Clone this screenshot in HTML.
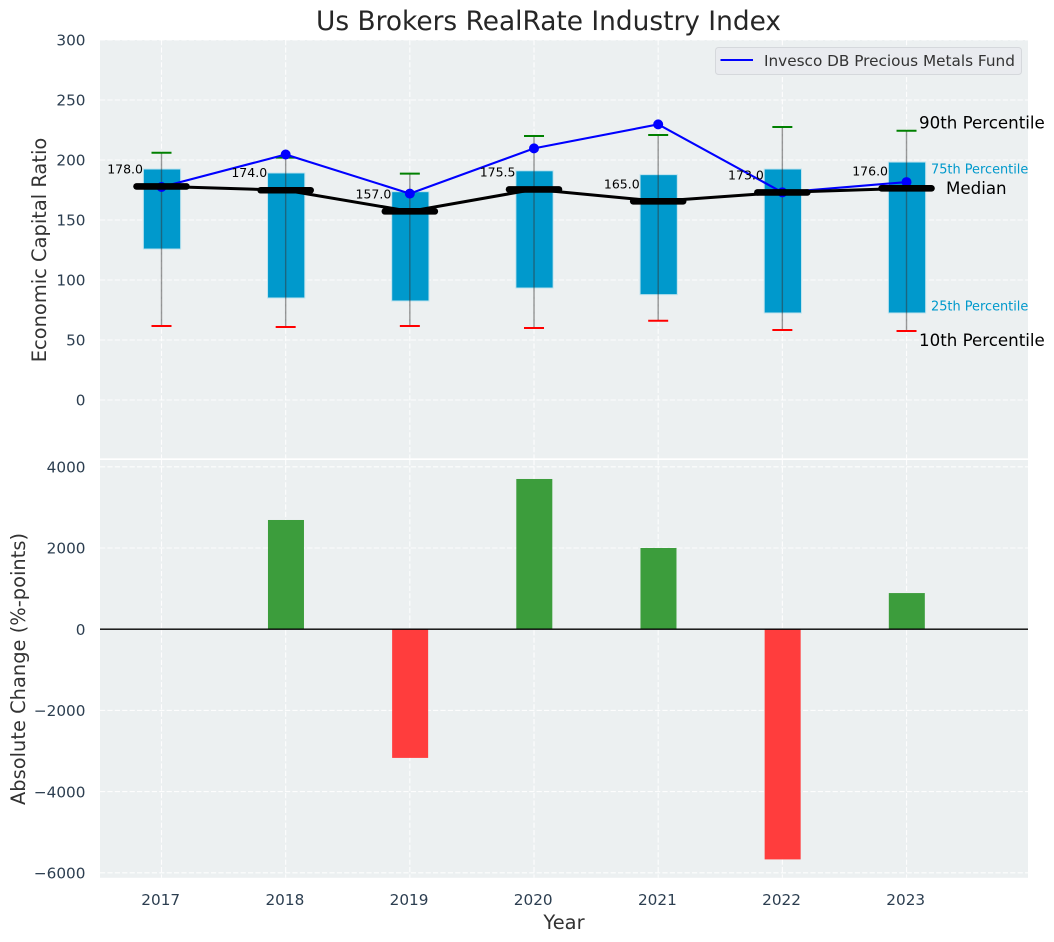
<!DOCTYPE html>
<html lang="en">
<head>
<meta charset="utf-8">
<title>Us Brokers RealRate Industry Index</title>
<style>
html,body{margin:0;padding:0;background:#fff;width:1054px;height:942px;overflow:hidden}
svg{display:block;font-family:"DejaVu Sans","Liberation Sans",sans-serif}
</style>
</head>
<body>
<svg id="chart" xmlns="http://www.w3.org/2000/svg" width="1054" height="942" viewBox="0 0 1054 942"></svg>
<script>
const years = [2017, 2018, 2019, 2020, 2021, 2022, 2023];
const p90 = [206, 202, 188.6, 220, 220.8, 227.5, 224.4];
const p75 = [192.5, 189.2, 173.6, 191, 187.8, 192.5, 198.3];
const medians = [178, 174.8, 157.2, 175.5, 165.6, 173, 176.4];
const medianLabels = ['178.0', '174.0', '157.0', '175.5', '165.0', '173.0', '176.0'];
const p25 = [125.8, 85, 82.5, 93.3, 87.8, 72.5, 72.5];
const p10 = [61.7, 60.8, 61.7, 60, 66, 58.3, 57.5];
const fundValues = [177.5, 204.6, 172, 209.7, 229.7, 173, 181.6];
const changeValues = [0, 2690, -3170, 3700, 2000, -5670, 890];
const topTicks = [0, 50, 100, 150, 200, 250, 300];
const bottomTicks = [-6000, -4000, -2000, 0, 2000, 4000];

const svg = document.getElementById('chart');
const NS = 'http://www.w3.org/2000/svg';
const left = 100, right = 1028;
const x = v => 161.5 + (v - 2017) * 124.17;
const yTop = v => 400 - v * 1.2;
const yBottom = v => 629.2 - v * 0.0406;
const spanWidth = d => d * 124.17;

function add(tag, attrs, text) {
  const el = document.createElementNS(NS, tag);
  for (const k in attrs) el.setAttribute(k, attrs[k]);
  if (text !== undefined) el.textContent = text;
  svg.appendChild(el);
  return el;
}
function minus(v) { return String(v).replace('-', '\u2212'); }
function poly(vals, sc) { return vals.map((v, i) => x(years[i]) + ',' + sc(v)).join(' '); }

let el;
el = add('rect', {x: left, y: 40, width: right - left, height: 418.3, fill: '#ECF0F1'});


el = add('rect', {x: left, y: 460, width: right - left, height: 417.8, fill: '#ECF0F1'});



const gridStyle = {stroke: '#ffffff', 'stroke-width': 1.1, 'stroke-dasharray': '5.2 2.2', opacity: 0.9};
topTicks.forEach(t => {
  el = add('line', {x1: left, x2: right, y1: yTop(t), y2: yTop(t), ...gridStyle});
  
  
  el = add('text', {x: 85.5, y: yTop(t) + 5.7, 'text-anchor': 'end', 'font-size': 15.28, fill: '#2C3E50'}, minus(t));
  
  
});
bottomTicks.forEach(t => {
  el = add('line', {x1: left, x2: right, y1: yBottom(t), y2: yBottom(t), ...gridStyle});
  
  
  el = add('text', {x: 85.5, y: yBottom(t) + 5.7, 'text-anchor': 'end', 'font-size': 15.28, fill: '#2C3E50'}, minus(t));
  
  
});
years.forEach(yr => {
  el = add('line', {x1: x(yr), x2: x(yr), y1: 40, y2: 458.3, ...gridStyle});
  
  
  el = add('line', {x1: x(yr), x2: x(yr), y1: 460, y2: 877.8, ...gridStyle});
  
  
  el = add('text', {x: x(yr) - 0.8, y: 905, 'text-anchor': 'middle', 'font-size': 15.28, fill: '#2C3E50'}, yr);
  
  
});

years.forEach((yr, i) => {
  const w = spanWidth(0.3);
  el = add('rect', {x: x(yr) - w / 2 + 0.5, y: yTop(p75[i]), width: w, height: yTop(p25[i]) - yTop(p75[i]), fill: '#0099CC', stroke: '#BFE3EE', 'stroke-width': 1});
  
  
  el = add('line', {x1: x(yr), x2: x(yr), y1: yTop(p90[i]), y2: yTop(p10[i]), stroke: '#333', 'stroke-opacity': 0.5, 'stroke-width': 1.4});
  
  
  el = add('line', {x1: x(yr) - 10, x2: x(yr) + 10, y1: yTop(p90[i]), y2: yTop(p90[i]), stroke: '#008000', 'stroke-width': 2});
  
  
  el = add('line', {x1: x(yr) - 10, x2: x(yr) + 10, y1: yTop(p10[i]), y2: yTop(p10[i]), stroke: '#FF0000', 'stroke-width': 2});
  
  
});

el = add('polyline', {points: poly(fundValues, yTop), fill: 'none', stroke: '#0000FF', 'stroke-width': 2.1});


years.forEach((yr, i) => {
  el = add('circle', {cx: x(yr), cy: yTop(fundValues[i]), r: 5, fill: '#0000FF'});
  
  
});

el = add('polyline', {points: poly(medians, yTop), fill: 'none', stroke: '#000', 'stroke-width': 3});


years.forEach((yr, i) => {
  el = add('line', {x1: x(yr) - 25, x2: x(yr) + 25, y1: yTop(medians[i]), y2: yTop(medians[i]), stroke: '#000', 'stroke-width': 6.6, 'stroke-linecap': 'round'});
  
  
  el = add('text', {x: x(yr) - 18.5, y: yTop(medians[i]) - 13, 'text-anchor': 'end', 'font-size': 12.5, fill: '#000'}, medianLabels[i]);
  
  
});

years.forEach((yr, i) => {
  const v = changeValues[i];
  if (v === 0) return;
  const w = spanWidth(0.29);
  el = add('rect', {x: x(yr) - w / 2 + 0.3, y: Math.min(yBottom(v), yBottom(0)), width: w, height: Math.abs(yBottom(v) - yBottom(0)), fill: v > 0 ? '#3C9D3C' : '#FF3D3D'});
  
  
});
el = add('line', {x1: left, x2: right, y1: yBottom(0), y2: yBottom(0), stroke: '#000', 'stroke-width': 1.4});



el = add('text', {x: 919, y: 128.3, 'font-size': 16.67, fill: '#000'}, '90th Percentile');


el = add('text', {x: 919, y: 346, 'font-size': 16.67, fill: '#000'}, '10th Percentile');


el = add('text', {x: 946, y: 194, 'font-size': 16.67, fill: '#000'}, 'Median');


el = add('text', {x: 931, y: 173.3, 'font-size': 12.9, fill: '#0099CC'}, '75th Percentile');


el = add('text', {x: 931, y: 310.7, 'font-size': 12.9, fill: '#0099CC'}, '25th Percentile');



el = add('rect', {x: 715.5, y: 47.5, width: 306, height: 27, rx: 3, fill: '#E9EBEF', stroke: '#D5D8DC', 'stroke-width': 1});


el = add('line', {x1: 720.5, x2: 753, y1: 60, y2: 60, stroke: '#0000FF', 'stroke-width': 2});


el = add('text', {x: 764, y: 66, 'font-size': 15.28, fill: '#333'}, 'Invesco DB Precious Metals Fund');



el = add('text', {x: 548.5, y: 30, 'text-anchor': 'middle', 'font-size': 26.4, fill: '#262626'}, 'Us Brokers RealRate Industry Index');


el = add('text', {x: 564, y: 929, 'text-anchor': 'middle', 'font-size': 19.44, fill: '#333'}, 'Year');


el = add('text', {x: 0, y: 0, transform: 'translate(46 250) rotate(-90)', 'text-anchor': 'middle', 'font-size': 19.44, fill: '#333'}, 'Economic Capital Ratio');


el = add('text', {x: 0, y: 0, transform: 'translate(25 669) rotate(-90)', 'text-anchor': 'middle', 'font-size': 19.44, fill: '#333'}, 'Absolute Change (%-points)');


</script>
</body>
</html>
